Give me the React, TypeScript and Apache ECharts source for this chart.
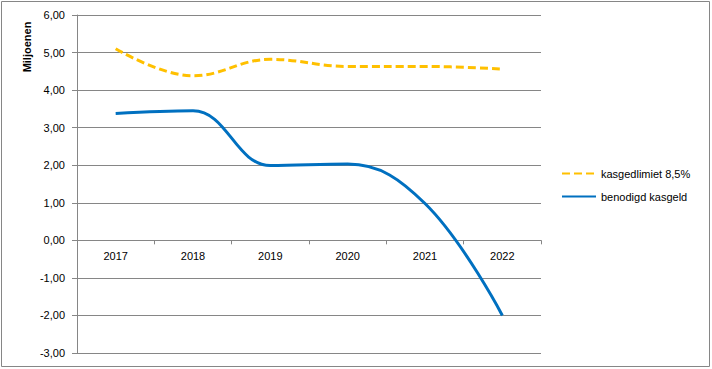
import React, { useEffect, useRef } from "react";
import * as echarts from "echarts";

const categories = ["2017", "2018", "2019", "2020", "2021", "2022"];
const kasgeldlimiet = [5.1, 4.38, 4.82, 4.63, 4.63, 4.56];
const benodigdKasgeld = [3.38, 3.45, 1.99, 2.03, 0.98, -2.0];
const seriesNames = ["kasgedlimiet 8,5%", "benodigd kasgeld"];
const yTicks = { min: -3, max: 6, interval: 1 };

const GRID_TOP = 15;
const GRID_BOTTOM = 16;
const CHART_H = 369;

export default function App() {
  const ref = useRef<HTMLDivElement>(null);
  useEffect(() => {
    if (!ref.current) return;
    const chart = echarts.init(ref.current, null, { renderer: "svg" });
    const font = "'Liberation Sans', Arial, sans-serif";
    const plotH = CHART_H - GRID_TOP - GRID_BOTTOM;
    const zeroOffset = -(plotH * (0 - yTicks.min)) / (yTicks.max - yTicks.min);
    chart.setOption({
      animation: false,
      backgroundColor: "#fff",
      textStyle: { fontFamily: font },
      grid: { left: 77, right: 171, top: GRID_TOP, bottom: GRID_BOTTOM },
      xAxis: {
        type: "category",
        data: categories,
        boundaryGap: true,
        position: "bottom",
        offset: zeroOffset,
        axisLine: { onZero: false, lineStyle: { color: "#868686", width: 1 } },
        axisTick: { show: true, length: 4, lineStyle: { color: "#868686" } },
        axisLabel: { color: "#000", fontSize: 11, margin: 10, fontFamily: font },
      },
      yAxis: {
        type: "value",
        min: yTicks.min,
        max: yTicks.max,
        interval: yTicks.interval,
        axisLine: { show: true, lineStyle: { color: "#868686" } },
        axisTick: { show: true, length: 5, lineStyle: { color: "#868686" } },
        splitLine: { show: true, lineStyle: { color: "#868686", width: 1 } },
        axisLabel: {
          color: "#000",
          fontSize: 11,
          margin: 12,
          fontFamily: font,
          formatter: (v: number) => v.toFixed(2).replace(".", ","),
        },
      },
      legend: {
        orient: "vertical",
        left: 556,
        top: 163,
        itemGap: 12,
        itemWidth: 34,
        itemHeight: 12,
        itemStyle: { opacity: 0 },
        textStyle: { color: "#000", fontSize: 11, fontFamily: font },
        data: seriesNames,
      },
      series: [
        {
          name: seriesNames[0],
          type: "line",
          data: kasgeldlimiet,
          smooth: 0.4,
          symbol: "none",
          lineStyle: { color: "#FFC000", width: 3, type: [8, 4] },
          itemStyle: { color: "#FFC000" },
        },
        {
          name: seriesNames[1],
          type: "line",
          data: benodigdKasgeld,
          smooth: 0.4,
          symbol: "none",
          lineStyle: { color: "#0070C0", width: 3 },
          itemStyle: { color: "#0070C0" },
        },
      ],
      graphic: [
        {
          type: "rect",
          shape: { x: 1.5, y: 1.5, width: 708, height: 365 },
          style: { fill: "none", stroke: "#868686", lineWidth: 1 },
          silent: true,
        },
        {
          type: "text",
          x: 27,
          y: 47,
          rotation: Math.PI / 2,
          style: {
            text: "Miljoenen",
            fontSize: 11,
            fontWeight: "bold",
            fill: "#000",
            fontFamily: font,
            textAlign: "center",
            textVerticalAlign: "middle",
          },
        },
      ],
    });
    return () => chart.dispose();
  }, []);
  return (
    <div
      ref={ref}
      style={{ position: "fixed", left: 0, top: 0, width: 712, height: 369 }}
    />
  );
}
